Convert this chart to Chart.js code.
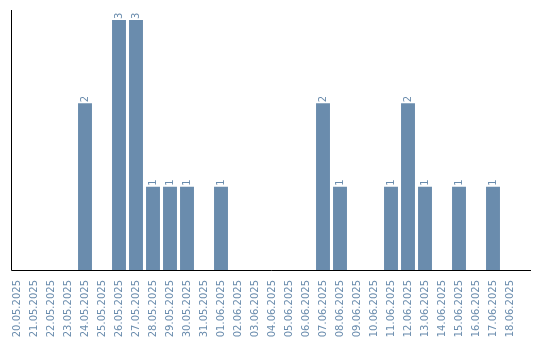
<!DOCTYPE html>
<html><head><meta charset="utf-8">
<script src="https://cdn.jsdelivr.net/npm/chart.js@4/dist/chart.umd.min.js"></script>
<style>html,body{margin:0;padding:0;background:#fff}#wrap{width:540px;height:340px}</style>
</head><body><div id="wrap"><canvas id="c" width="540" height="340"></canvas></div>
<script>
const categories = ["20.05.2025","21.05.2025","22.05.2025","23.05.2025","24.05.2025","25.05.2025","26.05.2025","27.05.2025","28.05.2025","29.05.2025","30.05.2025","31.05.2025","01.06.2025","02.06.2025","03.06.2025","04.06.2025","05.06.2025","06.06.2025","07.06.2025","08.06.2025","09.06.2025","10.06.2025","11.06.2025","12.06.2025","13.06.2025","14.06.2025","15.06.2025","16.06.2025","17.06.2025","18.06.2025"];
const counts = [0,0,0,0,2,0,3,3,1,1,1,0,1,0,0,0,0,0,2,1,0,0,1,2,1,0,1,0,1,0];
const yMax = 3.12;
const barColor = '#6a8cad';

const valueLabels = {
  id: 'valueLabels',
  afterDatasetsDraw(chart) {
    const ctx = chart.ctx;
    const meta = chart.getDatasetMeta(0);
    ctx.save();
    ctx.fillStyle = barColor;
    ctx.font = '10px "DejaVu Sans"';
    ctx.textAlign = 'left';
    ctx.textBaseline = 'middle';
    meta.data.forEach((bar, i) => {
      const v = counts[i];
      if (!v) return;
      ctx.save();
      ctx.translate(bar.x, bar.y - 1);
      ctx.rotate(-Math.PI / 2);
      ctx.fillText(String(v), 0, 0);
      ctx.restore();
    });
    ctx.restore();
  }
};
const axisLines = {
  id: 'axisLines',
  afterDraw(chart) {
    const a = chart.chartArea, ctx = chart.ctx;
    ctx.save();
    ctx.strokeStyle = '#000';
    ctx.lineWidth = 1;
    ctx.beginPath();
    const x0 = Math.round(a.left + 2.5) + 0.5;
    const yb = Math.round(a.bottom) + 0.5;
    ctx.moveTo(x0, a.top);
    ctx.lineTo(x0, yb);
    ctx.lineTo(a.right + 12.5, yb);
    ctx.stroke();
    ctx.restore();
  }
};

new Chart(document.getElementById('c'), {
  type: 'bar',
  data: { labels: categories, datasets: [{ data: counts, backgroundColor: barColor, barPercentage: 0.82, categoryPercentage: 1 }] },
  options: {
    responsive: false, animation: false, devicePixelRatio: 1,
    layout: { padding: { left: 8.5, right: 21.5, top: 10, bottom: 0 } },
    plugins: { legend: { display: false }, tooltip: { enabled: false } },
    scales: {
      x: {
        grid: { display: false }, border: { display: false },
        afterFit: (s) => { s.height = 70; },
        ticks: { color: barColor, font: { family: 'DejaVu Sans', size: 10 }, maxRotation: 90, minRotation: 90, autoSkip: false, padding: 2 }
      },
      y: { display: false, min: 0, max: yMax }
    }
  },
  plugins: [valueLabels, axisLines]
});
</script></body></html>
